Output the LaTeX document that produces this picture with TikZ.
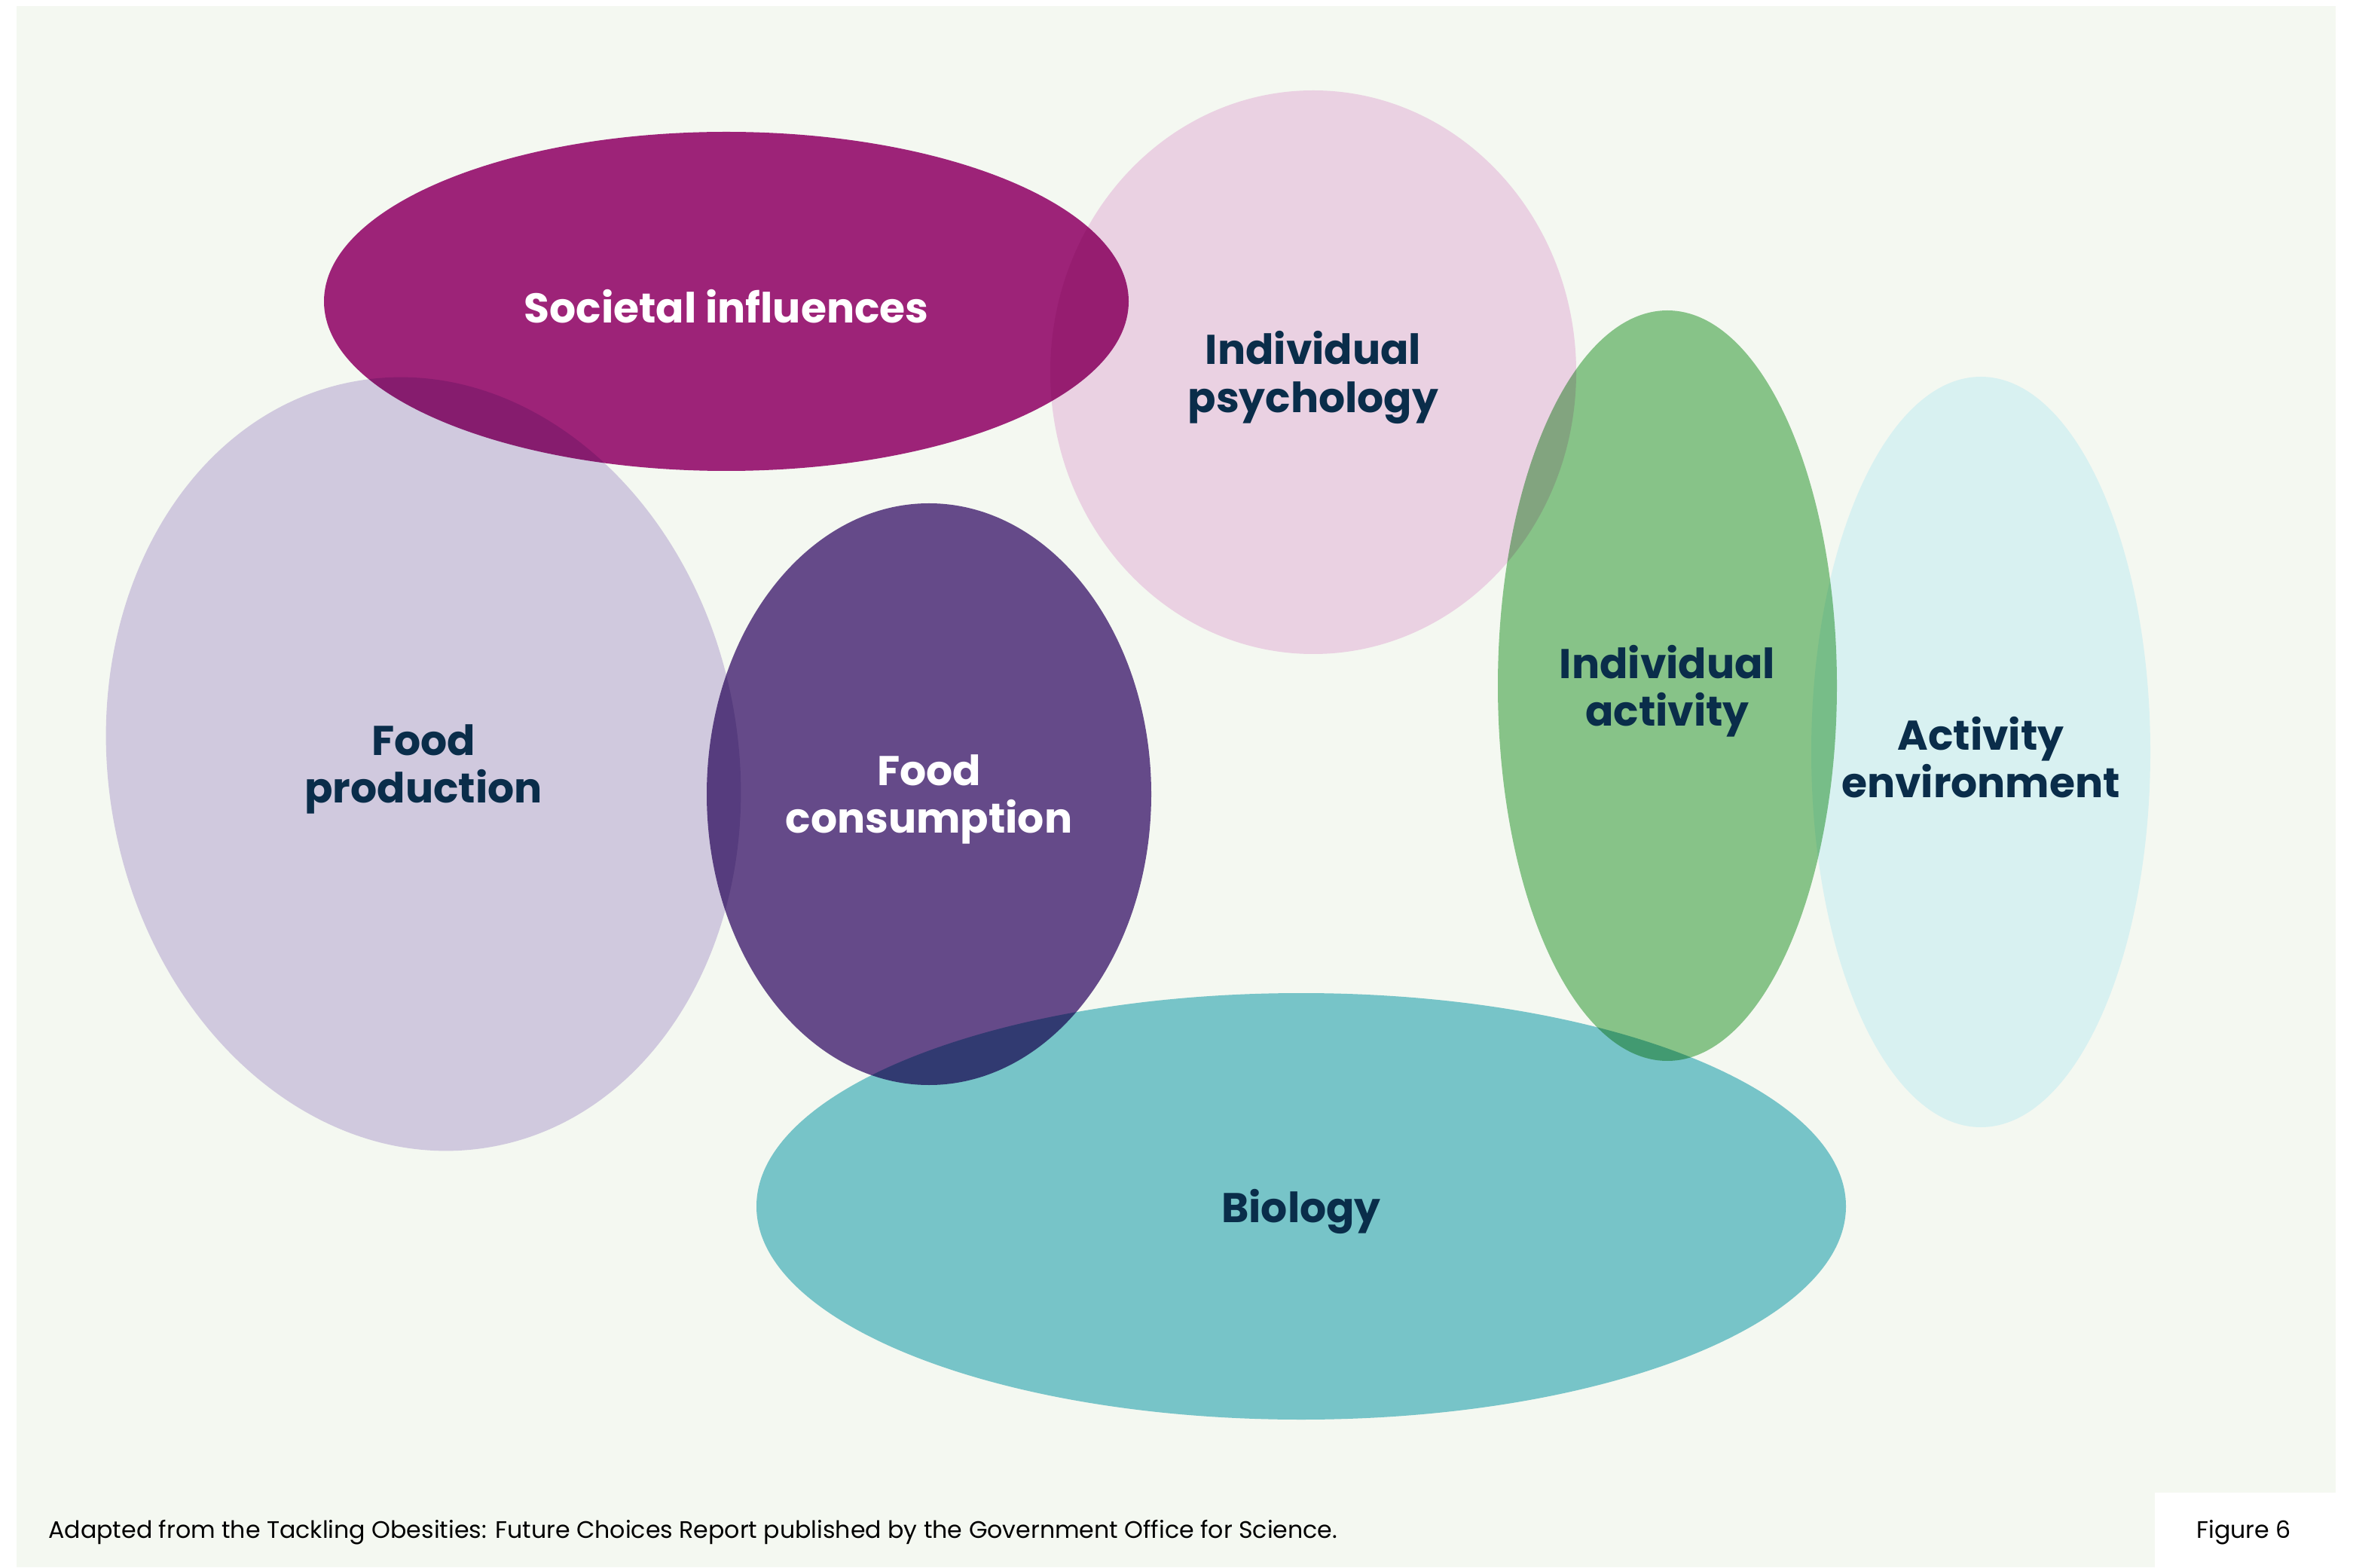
\documentclass[tikz,border=0pt]{standalone}
\RequirePackage{fontspec}
\setmainfont{Poppins}
\RequirePackage{tikz}
\usetikzlibrary{shapes.geometric}

\definecolor{bgpale}{HTML}{F4F8F1}
\definecolor{labelnavy}{HTML}{0A2D4A}
\definecolor{prodlilac}{HTML}{DACFEB}
\definecolor{socmagenta}{HTML}{A5247F}
\definecolor{psypink}{HTML}{F5D7F0}
\definecolor{conspurple}{HTML}{6A4D91}
\definecolor{actgreen}{HTML}{8EC990}
\definecolor{envcyan}{HTML}{E2F8FF}
\definecolor{bioteal}{HTML}{7DCAD4}

\tikzset{
    blob/.style={ellipse, draw=none, inner sep=0pt},
    lbl/.style={font=\fontsize{15.7}{18}\selectfont\bfseries, text=labelnavy, align=center, yshift=-0.07cm},
    lblwhite/.style={lbl, text=white},
    foot/.style={font=\fontsize{9}{10}\selectfont, text=black}
}

\begin{document}
\begin{tikzpicture}
                \useasboundingbox (0,0) rectangle (31.23,20.80);
                \fill[bgpale] (0.22,0) rectangle (31.00,20.72);
                \fill[white] (28.60,0) rectangle (31.00,0.99);

                \begin{scope}[blend mode=multiply]
                \node[blob, fill=prodlilac, minimum width=8.36cm, minimum height=10.32cm, rotate=10] (prod) at(5.62,10.66) {};
                \node[blob, fill=socmagenta, minimum width=10.68cm, minimum height=4.50cm] (soc) at(9.64,16.80) {};
                \node[blob, fill=psypink, minimum width=6.98cm, minimum height=7.48cm] (psy) at(17.43,15.86) {};
                \node[blob, fill=conspurple, minimum width=5.90cm, minimum height=7.72cm] (cons) at(12.33,10.26) {};
                \node[blob, fill=actgreen, minimum width=4.50cm, minimum height=9.96cm] (act) at(22.13,11.70) {};
                \node[blob, fill=envcyan, minimum width=4.50cm, minimum height=9.96cm] (env) at(26.29,10.82) {};
                \node[blob, fill=bioteal, minimum width=14.46cm, minimum height=5.66cm] (bio) at(17.27,4.79) {};
                \end{scope}

                \node[lblwhite] at(soc) {Societal influences};
                \node[lbl] at(psy) {Individual\\psychology};
                \node[lbl] at(prod) {Food\\production};
                \node[lblwhite] at(cons) {Food\\consumption};
                \node[lbl] at(act) {Individual\\activity};
                \node[lbl] at(env) {Activity\\environment};
                \node[lbl] at(bio) {Biology};

                \node[foot, anchor=west] (src) at(0.52,0.46) {Adapted from the Tackling Obesities: Future Choices Report published by the Government Office for Science.};
                \node[foot] (fig) at(29.78,0.46) {Figure 6};
\end{tikzpicture}
\end{document}
